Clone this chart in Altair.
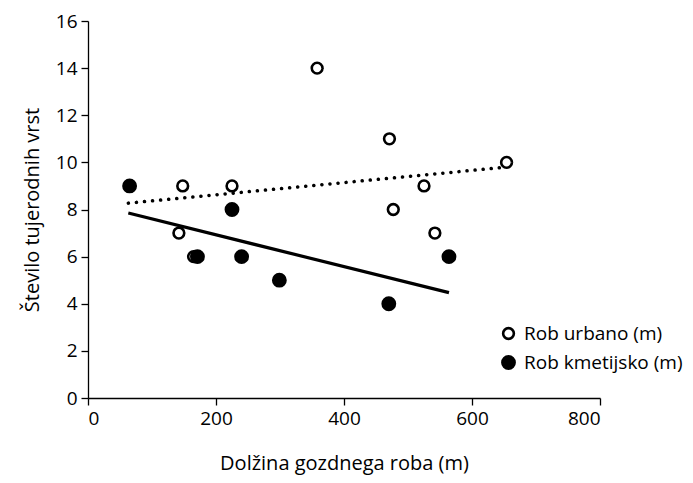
import altair as alt
import pandas as pd

# Data
urb_label = "Rob urbano (m)"
kmet_label = "Rob kmetijsko (m)"

urb_x = [142, 148, 165, 225, 358, 471, 477, 525, 542, 654]
urb_y = [7, 9, 6, 9, 14, 11, 8, 9, 7, 10]

kmet_x = [65, 171, 225, 240, 299, 470, 564]
kmet_y = [9, 6, 8, 6, 5, 4, 6]

# trend-line end points (as drawn in the reference)
trend_urb_x = [63, 654]
trend_urb_y = [8.27, 9.80]
trend_kmet_x = [63, 564]
trend_kmet_y = [7.85, 4.47]

x_ticks = [0, 200, 400, 600, 800]
y_ticks = [0, 2, 4, 6, 8, 10, 12, 14, 16]

FONT = "Open Sans"
FS = 19
TFS = 20

points_df = pd.DataFrame(
    {
        "x": urb_x + kmet_x,
        "y": urb_y + kmet_y,
        "series": [urb_label] * len(urb_x) + [kmet_label] * len(kmet_x),
    }
)
trend_urb_df = pd.DataFrame({"x": trend_urb_x, "y": trend_urb_y})
trend_kmet_df = pd.DataFrame({"x": trend_kmet_x, "y": trend_kmet_y})

xscale = alt.Scale(domain=[0, 800], nice=False, zero=False)
yscale = alt.Scale(domain=[0, 16], nice=False, zero=False)

x_axis = alt.Axis(
    title="Dolžina gozdnega roba (m)",
    values=x_ticks,
    titlePadding=25,
)
y_axis = alt.Axis(
    title="Število tujerodnih vrst",
    values=y_ticks,
    titlePadding=13,
)

series_domain = [urb_label, kmet_label]

legend = alt.Legend(
    title=None,
    orient="none",
    legendX=411,
    legendY=303,
    padding=0,
    rowPadding=6,
    symbolStrokeWidth=2.6,
    labelFont=FONT,
    labelFontSize=FS,
    labelColor="black",
    labelOffset=6,
)

line_urb = (
    alt.Chart(trend_urb_df)
    .mark_line(color="black", strokeWidth=3.5, strokeDash=[0.1, 8], strokeCap="round")
    .encode(x=alt.X("x:Q", scale=xscale, axis=x_axis), y=alt.Y("y:Q", scale=yscale, axis=y_axis))
)
line_kmet = (
    alt.Chart(trend_kmet_df)
    .mark_line(color="black", strokeWidth=3.2)
    .encode(x=alt.X("x:Q", scale=xscale), y=alt.Y("y:Q", scale=yscale))
)

points = (
    alt.Chart(points_df)
    .mark_point(filled=True, strokeWidth=2.6, opacity=1, shape="circle")
    .encode(
        x=alt.X("x:Q", scale=xscale),
        y=alt.Y("y:Q", scale=yscale),
        fill=alt.Fill(
            "series:N",
            scale=alt.Scale(domain=series_domain, range=["white", "black"]),
            legend=legend,
        ),
        stroke=alt.Stroke(
            "series:N",
            scale=alt.Scale(domain=series_domain, range=["black", "black"]),
            legend=legend,
        ),
        size=alt.Size(
            "series:N",
            scale=alt.Scale(domain=series_domain, range=[115, 150]),
            legend=legend,
        ),
    )
)

chart = (
    alt.layer(line_urb, line_kmet, points)
    .properties(
        width=512,
        height=377,
        autosize=alt.AutoSizeParams(type="none"),
        padding={"left": 80, "top": 13, "right": 85, "bottom": 77},
    )
    .configure_view(stroke=None)
    .configure_axis(
        grid=False,
        domainColor="black",
        domainWidth=1.3,
        tickColor="black",
        tickWidth=1.3,
        tickSize=7,
        labelPadding=4,
        labelFont=FONT,
        labelFontSize=FS,
        labelColor="black",
        titleFont=FONT,
        titleFontSize=TFS,
        titleFontWeight="normal",
        titleColor="black",
    )
)

chart.save("out.html", embed_options={"renderer": "svg", "actions": False})
